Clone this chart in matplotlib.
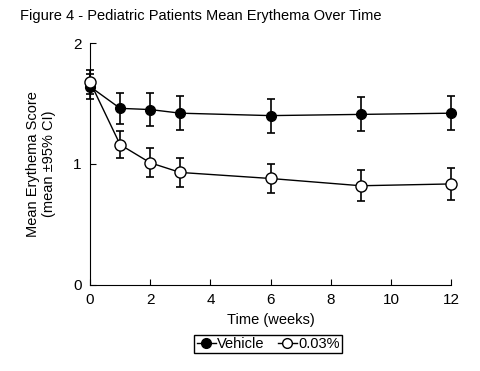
import numpy as np
import matplotlib.pyplot as plt
from matplotlib.lines import Line2D

plt.rcParams['font.family'] = ['Liberation Sans', 'DejaVu Sans']

weeks = [0, 1, 2, 3, 6, 9, 12]
vehicle = [1.64, 1.46, 1.45, 1.42, 1.40, 1.41, 1.42]
vehicle_ci = [0.10, 0.13, 0.14, 0.14, 0.14, 0.14, 0.14]
drug = [1.68, 1.16, 1.01, 0.93, 0.88, 0.82, 0.835]
drug_ci = [0.10, 0.11, 0.12, 0.12, 0.12, 0.13, 0.13]

fig = plt.figure(figsize=(4.8, 3.71), dpi=100)
ax = fig.add_axes([0.1875, 0.232, 0.7525, 0.652])

for y, ci, fc, ms, z in [(vehicle, vehicle_ci, 'black', 7, 3), (drug, drug_ci, 'white', 8, 4)]:
    l, caps, bars = ax.errorbar(weeks, y, yerr=ci, color='black', marker='o', markersize=ms,
                                markerfacecolor=fc, lw=1, elinewidth=1.2, capsize=3,
                                capthick=1.2, zorder=z)
    for a in [l, *caps, *bars]:
        a.set_clip_on(False)

ax.set_xlim(0, 12)
ax.set_ylim(0, 2)
ax.set_xticks([0, 2, 4, 6, 8, 10, 12])
ax.set_yticks([0, 1, 2])
ax.spines['top'].set_visible(False)
ax.spines['right'].set_visible(False)
ax.tick_params(direction='in', length=4, labelsize=11, pad=6)
ax.set_xlabel('Time (weeks)', fontsize=10.5, labelpad=4)
ax.set_ylabel('Mean Erythema Score\n(mean ±95% CI)', fontsize=10.5, labelpad=12)

handles = [Line2D([], [], color='black', marker='o', markersize=7, markerfacecolor='black', lw=1),
           Line2D([], [], color='black', marker='o', markersize=7, markerfacecolor='white', lw=1)]
ax.legend(handles, ['Vehicle', '0.03%'], loc='center', bbox_to_anchor=(0.493, -0.245),
          ncol=2, frameon=True, fancybox=False, edgecolor='black', fontsize=10.5,
          handlelength=1.3, handletextpad=0.1, columnspacing=0.9, borderpad=0.15,
          borderaxespad=0, framealpha=1)
ax.get_legend().get_frame().set_linewidth(1)

fig.text(0.042, 0.945, 'Figure 4 - Pediatric Patients Mean Erythema Over Time', fontsize=10.5)

plt.savefig('out.png', dpi=100)
